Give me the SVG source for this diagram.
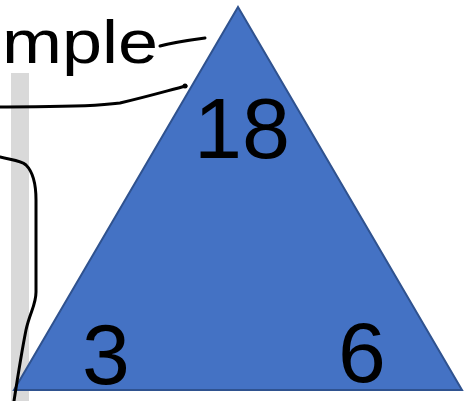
<svg xmlns="http://www.w3.org/2000/svg" width="470" height="401" viewBox="0 0 470 401">
<style>
.ink{fill:none;stroke:#000;stroke-width:3;stroke-linecap:round;stroke-linejoin:round}
.hand{font-family:"Liberation Sans","DejaVu Sans",sans-serif;fill:#000}
</style>
<rect width="470" height="401" fill="#fff"/>
<rect x="11" y="73" width="18" height="328" fill="#d9d9d9"/>
<g id="triangle">
<polygon points="238,7 462,390 14,390" fill="#4472C4" stroke="#2F528F" stroke-width="2"/>
</g>
<g id="label-top">
<text class="hand" x="2" y="63" font-size="62" textLength="156" lengthAdjust="spacingAndGlyphs">mple</text>
<path class="ink" d="M160,46 C175,42 190,40 205,38"/>
</g>
<g id="connectors">
<path class="ink" d="M0,107 C40,106 80,108 120,103 C150,96 170,90 186,86"/>
<circle cx="185" cy="86" r="2.5" fill="#000"/>
<path class="ink" d="M0,157 C10,160 20,160 26,165 C33,172 36,185 36,200 L36,292 C36,305 30,312 26,330 C22,350 18,375 14,401"/>
</g>
<g id="value-18">
<text class="hand" x="194" y="158" font-size="86" textLength="96" lengthAdjust="spacingAndGlyphs">18</text>
</g>
<g id="value-3">
<text class="hand" x="82" y="384" font-size="86">3</text>
</g>
<g id="value-6">
<text class="hand" x="338" y="382" font-size="86">6</text>
</g>
</svg>
